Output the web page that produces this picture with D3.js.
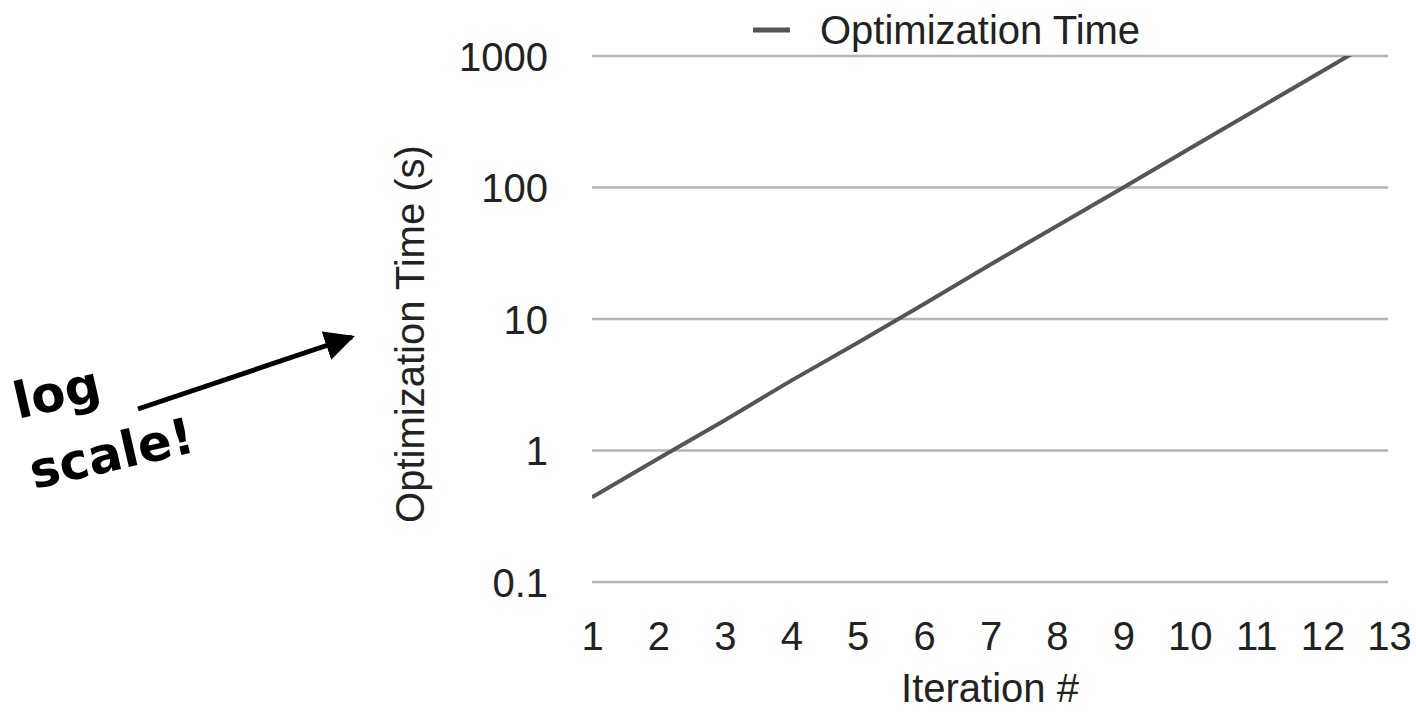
<!DOCTYPE html>
<html>
<head>
<meta charset="utf-8">
<script src="https://cdn.jsdelivr.net/npm/d3@7"></script>
<style>
  body { margin: 0; background: #fff; }
  .tick-label { font-family: "Liberation Sans", Arial, sans-serif; font-size: 40px; fill: #222; }
</style>
</head>
<body>
<div class="chart"></div>
<script>
// data
var iterations = [1, 2, 3, 4, 5, 6, 7, 8, 9, 10, 11, 12, 13];
var optTime = [0.44, 0.87, 1.7, 3.4, 6.6, 13, 26, 51, 100, 198, 390, 770, 1520];
var yTicks = [0.1, 1, 10, 100, 1000];
var yTickLabels = ["0.1", "1", "10", "100", "1000"];
var xTicks = [1, 2, 3, 4, 5, 6, 7, 8, 9, 10, 11, 12, 13];
var seriesName = "Optimization Time";

var W = 1416, H = 712;
var margin = {left: 592, right: 26, top: 56, bottom: 130};
var width = W - margin.left - margin.right;
var height = H - margin.top - margin.bottom;

var svg = d3.select(".chart").append("svg")
  .attr("width", W)
  .attr("height", H)

var g = svg.append("g")
  .attr("transform", "translate(" + margin.left + "," + margin.top + ")")

var xScale = d3.scaleLinear()
  .domain([1, 13])
  .range([0, 797])

var yScale = d3.scaleLog()
  .domain([0.1, 1000])
  .range([height, 0])

// gridlines
g.selectAll(".grid")
  .data(yTicks)
  .enter().append("line")
    .attr("class", "grid")
    .attr("x1", 0)
    .attr("x2", 796)
    .attr("y1", function(d) { return yScale(d); })
    .attr("y2", function(d) { return yScale(d); })
    .attr("stroke", "#b4b4b4")
    .attr("stroke-width", 2.5)

// y axis labels
var yAxis = d3.axisLeft(yScale)
  .tickValues(yTicks)
  .tickFormat(function(d, i) { return yTickLabels[i]; })
  .tickSize(0)
  .tickPadding(44)
g.append("g")
  .attr("class", "y-axis")
  .call(yAxis)
  .call(function(s) {
    s.select(".domain").remove();
    s.selectAll("text").attr("class", "tick-label").attr("dy", "0.36em").attr("font-size", null).attr("font-family", null);
  })

// x axis labels
var xAxis = d3.axisBottom(xScale)
  .tickValues(xTicks)
  .tickFormat(d3.format("d"))
  .tickSize(0)
  .tickPadding(40)
g.append("g")
  .attr("class", "x-axis")
  .attr("transform", "translate(0," + height + ")")
  .call(xAxis)
  .call(function(s) {
    s.select(".domain").remove();
    s.selectAll("text").attr("class", "tick-label").attr("dy", "0.71em").attr("font-size", null).attr("font-family", null);
  })

// axis titles
g.append("text")
  .text("Optimization Time (s)")
  .attr("class", "tick-label")
  .attr("transform", "translate(-168," + (334 - margin.top) + ") rotate(-90)")
  .attr("text-anchor", "middle")

g.append("text")
  .text("Iteration #")
  .attr("class", "tick-label")
  .attr("x", 990 - margin.left)
  .attr("y", 702 - margin.top)
  .attr("text-anchor", "middle")

// line, clipped to the plot area
svg.append("clipPath")
  .attr("id", "plot-clip")
  .append("rect")
    .attr("x", 0).attr("y", 0)
    .attr("width", 800).attr("height", height)

var line = d3.line()
  .x(function(d, i) { return xScale(iterations[i]); })
  .y(function(d) { return yScale(d); })

g.append("path")
  .datum(optTime)
  .attr("clip-path", "url(#plot-clip)")
  .attr("d", line)
  .attr("fill", "none")
  .attr("stroke", "#555")
  .attr("stroke-width", 4)

// legend
svg.append("line")
  .attr("x1", 753).attr("x2", 790)
  .attr("y1", 30).attr("y2", 30)
  .attr("stroke", "#555")
  .attr("stroke-width", 5)
svg.append("text")
  .text(seriesName)
  .attr("class", "tick-label")
  .attr("x", 820)
  .attr("y", 44)

// annotation
var note = svg.append("g")
  .attr("font-family", "DejaVu Sans, sans-serif")
  .attr("font-weight", "bold")
  .attr("font-size", 50)
  .attr("fill", "#000")
note.append("text")
  .text("log")
  .attr("transform", "translate(18,419) rotate(-13)")
note.append("text")
  .text("scale!")
  .attr("transform", "translate(34,489) rotate(-13)")

svg.append("defs").append("marker")
  .attr("id", "arrowhead")
  .attr("viewBox", "0 0 10 10")
  .attr("refX", 9).attr("refY", 5)
  .attr("markerWidth", 6).attr("markerHeight", 6)
  .attr("markerUnits", "strokeWidth")
  .attr("orient", "auto")
  .append("path")
    .attr("d", "M0,0 L10,5 L0,10 Z")
    .attr("fill", "#000")

svg.append("line")
  .attr("x1", 138).attr("y1", 409)
  .attr("x2", 352).attr("y2", 337)
  .attr("stroke", "#000")
  .attr("stroke-width", 5)
  .attr("marker-end", "url(#arrowhead)")
</script>
</body>
</html>
